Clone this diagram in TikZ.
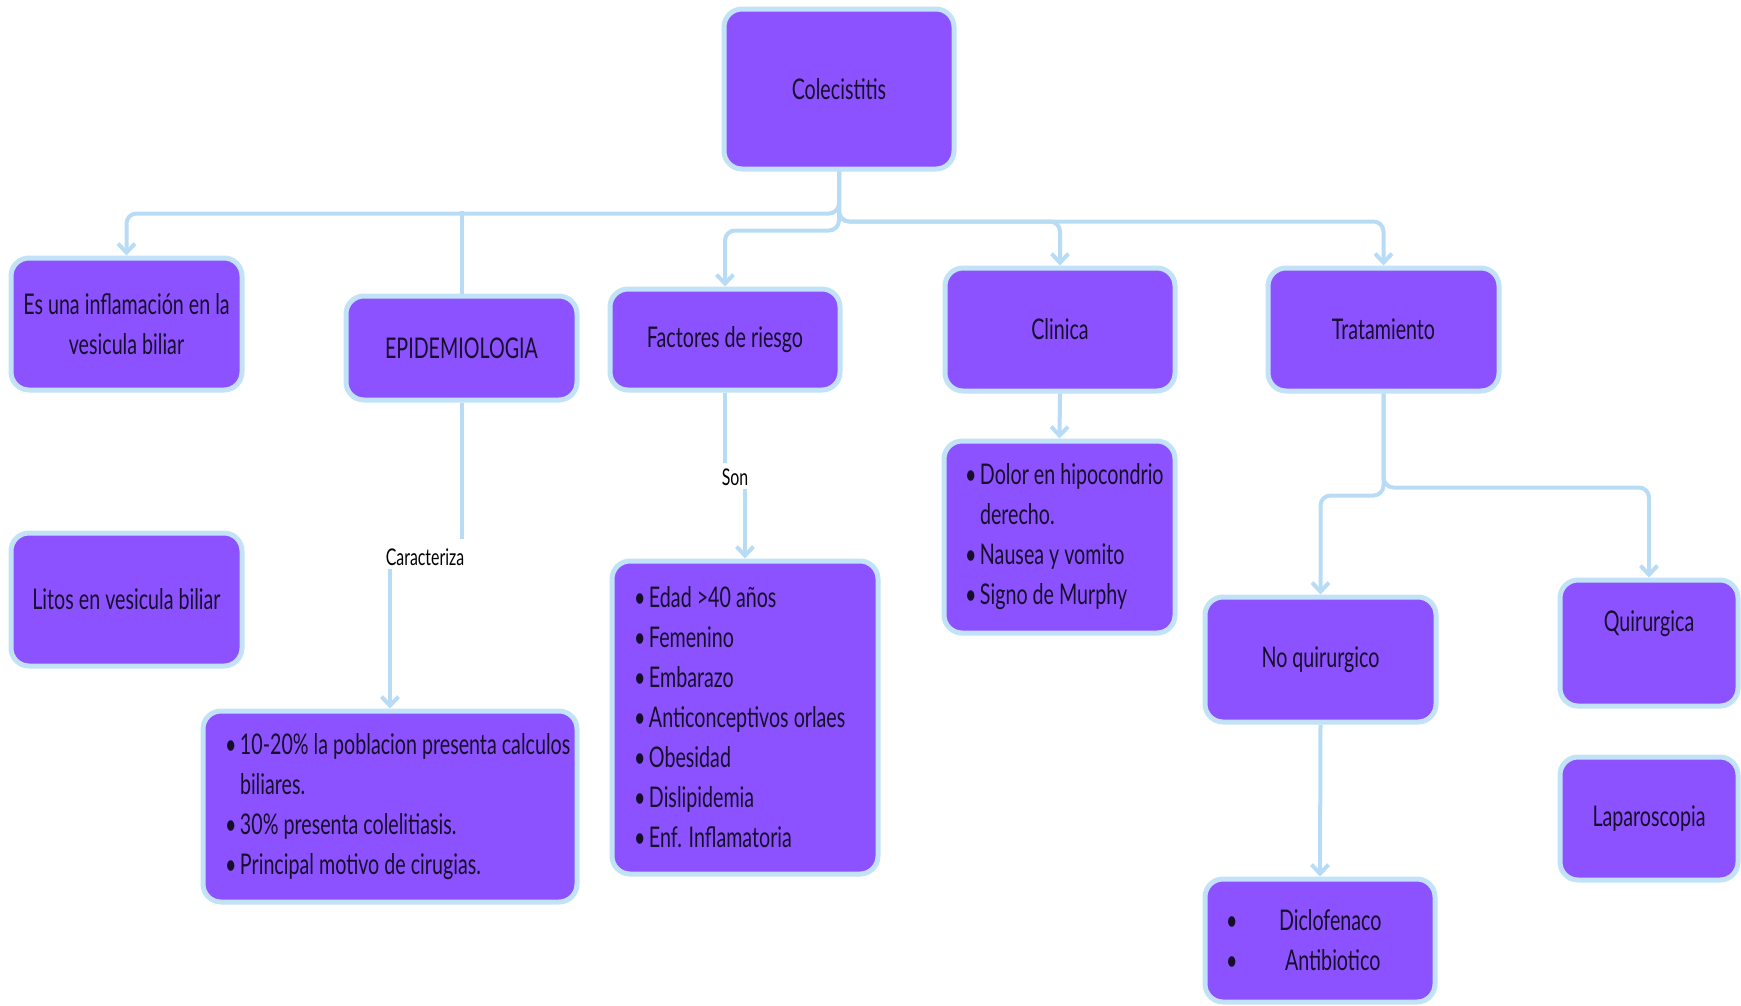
\documentclass[tikz,border=0pt]{standalone}
\usepackage{fontspec}
\setmainfont{Lato}[FakeStretch=0.69]
\usetikzlibrary{arrows.meta}
\definecolor{boxfill}{HTML}{8C52FF}
\definecolor{boxedge}{HTML}{C2E2F8}
\definecolor{connc}{HTML}{B8DCF5}
\definecolor{txtc}{HTML}{170E2B}
\newcommand{\bitem}[1]{\mbox{\spaceskip=0pt\xspaceskip=0pt\relax\makebox[15pt][l]{•}#1}}
\newcommand{\bcont}[1]{\mbox{\spaceskip=0pt\xspaceskip=0pt\relax\hspace*{15pt}#1}}
\begin{document}
\begin{tikzpicture}[x=1pt,y=-1pt,
  box/.style={draw=boxedge, line width=5pt, fill=boxfill, rounded corners=18pt,
    text=txtc, font=\fontsize{28.5}{40}\selectfont, inner sep=0pt, align=center},
  listbox/.style={box, align=left},
  conn/.style={draw=connc, line width=4pt, rounded corners=10pt},
  arr/.style={-{Straight Barb[length=9pt,width=17pt]}},
  lbl/.style={text=black, font=\fontsize{23}{27}\selectfont, inner sep=3pt},
  txt/.style={text=txtc, font=\fontsize{28.5}{40}\selectfont, inner sep=0pt}
]
\useasboundingbox (0,0) rectangle (1741,1005);

% nodes
\node[box, minimum width=230pt, minimum height=160pt] (col) at (839,89) {Colecistitis};
\node[box, minimum width=231pt, minimum height=132pt] (es) at (126.5,324) {Es una inflamación en la\\vesicula biliar};
\node[box, minimum width=231pt, minimum height=104pt] (epi) at (461.5,348) {EPIDEMIOLOGIA};
\node[box, minimum width=230pt, minimum height=101pt] (fac) at (725,339.5) {Factores de riesgo};
\node[box, minimum width=230pt, minimum height=123pt] (cli) at (1060,329.5) {Clinica};
\node[box, minimum width=231pt, minimum height=123pt] (tra) at (1383.5,329.5) {Tratamiento};
\node[box, minimum width=231pt, minimum height=133pt] (lit) at (126.5,599.5) {Litos en vesicula biliar};

\node[listbox, minimum width=374pt, minimum height=191pt, text width=330pt] (epl) at (390,806.5)
  {\bitem{10-20\% la poblacion presenta calculos}\\\bcont{biliares.}\\\bitem{30\% presenta colelitiasis.}\\\bitem{Principal motivo de cirugias.}};
\node[listbox, minimum width=266pt, minimum height=313pt, text width=222pt] (fal) at (745,717.5)
  {\bitem{Edad >40 años}\\\bitem{Femenino}\\\bitem{Embarazo}\\\bitem{Anticonceptivos orlaes}\\\bitem{Obesidad}\\\bitem{Dislipidemia}\\\bitem{Enf. Inflamatoria}};
\node[listbox, minimum width=231pt, minimum height=192pt, text width=189pt] (cll) at (1059.5,537)
  {\bitem{Dolor en hipocondrio}\\\bcont{derecho.}\\\bitem{Nausea y vomito}\\\bitem{Signo de Murphy}};

\node[box, minimum width=231pt, minimum height=125pt] (noq) at (1320.5,659.5) {No quirurgico};
\node[box, minimum width=178pt, minimum height=126pt] (qui) at (1649,643) {};
\node[txt] (quit) at ([yshift=19pt]qui.center) {Quirurgica};
\node[box, minimum width=178pt, minimum height=123pt] (lap) at (1649,818.5) {Laparoscopia};
\node[listbox, minimum width=230pt, minimum height=123pt, text width=188pt] (dic) at (1320,940.5)
  {\mbox{\makebox[53pt][l]{•}Diclofenaco}\\\mbox{\makebox[59pt][l]{•}Antibiotico}};

% labels
\node[lbl] (car) at (425,557) {Caracteriza};
\node[lbl] (son) at (735,477) {Son};

% connectors from the root
\draw[conn, arr] (col.south) -- ++(0,42) -| (es.north);
\draw[conn, arr] (col.south) -- ++(0,59) -| (fac.north);
\draw[conn, arr] (col.south) -- ++(0,50) -| (tra.north);
\draw[conn, arr] (col.south) -- ++(0,50) -| (cli.north);
\draw[conn] (epi.north) -- ++(0,-83);

% epidemiologia
\draw[conn] (epi.south) -- ++(0,136);
\draw[conn, arr] (car.south -| epl.north) -- (epl.north);

% factores
\draw[conn] (fac.south) -- ++(0,70);
\draw[conn, arr] (son.south -| fal.north) -- (fal.north);

% clinica
\draw[conn, arr] (cli.south) -- (cll.north);

% tratamiento
\draw[conn, arr] (tra.south) -- ++(0,94) -| (qui.north);
\draw[conn, arr] (tra.south) -- ++(0,102) -| (noq.north);
\draw[conn, arr] (noq.south) -- (dic.north);
\end{tikzpicture}
\end{document}
